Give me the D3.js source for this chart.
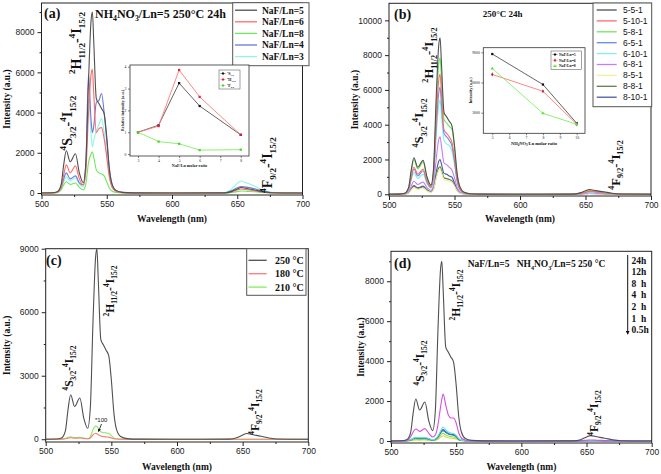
<!DOCTYPE html>
<html><head><meta charset="utf-8">
<script src="https://cdn.jsdelivr.net/npm/d3@7"></script>
<style>body{margin:0;background:#fff}svg{display:block}</style>
</head><body>
<svg id="c" width="661" height="474"></svg>
<script>
// ---------------- DATA ----------------
const wavelengths = [500,508,512,515,517,519,522,526,529,532,534,536,538,539,540,542,544,546,548,550,552,554,557,562,570,600,640,646,650,653,658,664,670,676,700];
const xTicks = [500,550,600,650,700];
const xMinorTicks = [525,575,625,675];

// panel (a): NaF/Ln series
const aLabels = ["NaF/Ln=5","NaF/Ln=6","NaF/Ln=8","NaF/Ln=4","NaF/Ln=3"];
const aNaF5 = [0,10,60,400,1400,2100,1550,1950,1000,520,1500,5500,8600,9000,7600,4700,4450,4200,3950,2800,1200,450,130,30,5,0,5,80,200,270,210,140,60,15,0];
const aNaF6 = [0,5,40,270,900,1400,1000,1350,700,400,1100,3900,5900,6150,5000,3000,3200,3250,2700,1800,800,300,90,20,0,0,3,60,150,200,160,100,40,10,0];
const aNaF8 = [0,5,20,150,400,560,430,500,280,150,450,1500,1950,2050,1800,1150,1000,950,850,550,250,100,30,5,0,0,2,30,70,100,80,60,25,5,0];
const aNaF4 = [0,5,40,250,700,1000,700,850,500,400,1500,5900,3600,3000,3300,4500,4600,4950,4000,2600,1200,450,130,30,0,0,5,120,260,320,280,200,80,20,0];
const aNaF3 = [0,5,30,200,550,800,600,750,450,300,1300,4700,2900,2300,2600,3100,3400,3700,3000,1800,800,300,90,20,0,0,10,220,480,600,480,320,130,30,0];
const aYTicks = [0,2000,4000,6000,8000];
// inset (a)
const insetARatio = [3,4,5,6,8];
const insetAS = [1.0,1.32,3.25,2.2,0.88];
const insetAH = [1.0,1.28,3.85,2.62,0.88];
const insetAF = [1.0,0.57,0.47,0.18,0.2];
const insetAXTicks = [3,4,5,6,7,8];
const insetAYTicks = [0,1,2,3,4];

// panel (b)
const bLabels = ["5-5-1","5-10-1","5-8-1","6-5-1","6-10-1","6-8-1","8-5-1","8-8-1","8-10-1"];
const b551  = [0,10,60,400,1400,2100,1550,1950,1000,520,1500,5500,8600,9000,7600,4700,4450,4200,3950,2800,1200,450,130,30,5,0,5,80,200,270,210,140,60,15,0];
const b5101 = [0,8,45,300,1000,1550,1150,1450,750,420,1150,4200,6600,6900,5800,3700,3500,3300,3000,2100,900,330,100,20,0,0,3,50,130,180,140,90,40,10,0];
const b581  = [0,10,55,380,1300,2000,1450,1850,950,500,1350,4900,7500,7850,6700,4300,4100,3900,3750,2600,1100,420,120,25,0,0,4,70,170,220,170,110,50,12,0];
const b651  = [0,8,40,280,950,1450,1050,1350,700,400,1050,3800,5850,6150,5200,3500,3300,3100,2800,1900,800,300,90,20,0,0,3,50,120,160,130,80,35,8,0];
const b6101 = [0,7,35,240,820,1250,900,1150,620,350,900,3300,5150,5400,4600,3100,2900,2800,2500,1700,720,270,80,15,0,0,3,40,100,140,110,70,30,8,0];
const b681  = [0,4,20,140,480,750,560,700,380,220,550,2000,3150,3300,2800,1800,1700,1550,1400,950,400,150,45,10,0,0,2,25,60,80,65,40,18,4,0];
const b851  = [0,2,10,70,240,380,280,350,190,110,260,900,1380,1450,1250,850,800,750,680,460,200,75,22,5,0,0,1,12,30,40,32,20,9,2,0];
const b881  = [0,2,12,85,290,450,330,420,230,130,300,1000,1520,1600,1400,950,900,850,780,520,220,85,25,5,0,0,1,14,35,45,36,22,10,2,0];
const b8101 = [0,3,14,95,320,500,370,470,260,150,360,1250,1900,2000,1750,1200,1150,1050,980,650,280,105,30,6,0,0,1,17,42,55,44,27,12,3,0];
const bYTicks = [0,2000,4000,6000,8000,10000];
// inset (b)
const insetBRatio = [5,8,10];
const insetBNaF5 = [8830,5800,1950];
const insetBNaF6 = [6800,5130,1850];
const insetBNaF8 = [7400,2940,1850];
const insetBLabels = ["NaF/Ln=5","NaF/Ln=6","NaF/Ln=8"];
const insetBXTicks = [5,6,7,8,9,10];
const insetBYTicks = [3000,6000,9000];

// panel (c)
const cLabels = ["250 °C","180 °C","210 °C"];
const c250 = [0,10,60,400,1400,2100,1550,1950,1000,520,1500,5500,8600,9000,7600,4700,4450,4200,3950,2800,1200,450,130,30,5,0,5,80,200,270,210,140,60,15,0];
const c180 = [0,0,5,20,50,70,50,60,35,20,60,200,280,260,220,150,130,110,100,60,25,10,2,0,0,0,0,0,0,0,0,0,0,0,0];
const c210 = [0,0,10,40,90,110,80,90,55,30,120,450,620,600,520,350,310,300,280,170,60,20,5,0,0,0,0,0,0,0,0,0,0,0,0];
const cYTicks = [0,3000,6000,9000];

// panel (d)
const dLabels = ["24h","12h","8  h","4  h","2  h","1  h","0.5h"];
const d24 = [0,10,60,400,1400,2100,1550,1950,1000,520,1500,5500,8600,9000,7600,4700,4450,4200,3950,2800,1200,450,130,30,5,0,5,80,200,270,210,140,60,15,0];
const d12 = [0,5,30,200,450,600,480,620,380,200,300,800,1700,2100,2350,1800,1300,1150,1150,900,400,150,50,10,0,0,2,20,40,50,40,25,10,2,0];
const d8  = [0,2,15,60,140,190,160,180,120,70,100,250,500,620,700,560,450,400,380,280,120,45,15,3,0,0,1,8,15,20,15,10,4,1,0];
const d4  = [0,2,12,50,120,160,135,155,100,60,85,210,430,530,570,460,380,340,320,240,100,38,12,2,0,0,1,6,12,16,12,8,3,1,0];
const d2  = [0,2,12,50,120,150,130,150,95,55,80,200,400,480,520,420,350,310,290,220,90,35,11,2,0,0,1,6,12,15,12,8,3,1,0];
const d1  = [0,1,8,30,70,90,75,85,55,35,50,140,300,360,380,300,250,220,200,150,60,22,7,1,0,0,1,4,8,10,8,5,2,1,0];
const d05 = [0,1,5,20,45,55,45,55,35,22,35,90,200,240,260,200,160,140,130,100,40,15,5,1,0,0,0,3,5,7,5,3,1,0,0];
const dYTicks = [0,2000,4000,6000,8000];

// ---------------- DRAWING ----------------
const SERIF = "'Liberation Serif','Times New Roman',serif";
const SANS = "'Liberation Sans',Arial,sans-serif";
const svg = d3.select("#c");

const LBL_S = [["4","sup"],["S","n"],["3/2","sub"],["-","n"],["4","sup"],["I","n"],["15/2","sub"]];
const LBL_H = [["2","sup"],["H","n"],["11/2","sub"],["-","n"],["4","sup"],["I","n"],["15/2","sub"]];
const LBL_F = [["4","sup"],["F","n"],["9/2","sub"],["-","n"],["4","sup"],["I","n"],["15/2","sub"]];

function rich(g, x, y, parts, size, opt) {
  opt = opt || {};
  const t = g.append("text")
    .attr("font-family", opt.family || SERIF)
    .attr("font-weight", opt.weight || "bold")
    .attr("font-size", size)
    .attr("fill", opt.fill || "#111")
    .attr("text-anchor", opt.anchor || "start")
    .style("white-space", "pre")
    .attr("transform", `translate(${x},${y})` + (opt.rotate ? " rotate(-90)" : ""));
  let cur = 0;
  parts.forEach(([s, k]) => {
    const off = k === "sup" ? -0.42 * size : k === "sub" ? 0.28 * size : 0;
    t.append("tspan").attr("dy", off - cur).attr("font-size", k === "n" ? size : size * 0.65).text(s);
    cur = off;
  });
  return t;
}
// rotated label, centred visually at (cx, cy)
function rlabel(g, cx, cy, parts, size) {
  rich(g, cx + 0.36 * size, cy, parts, size, {rotate: true, anchor: "middle"});
}

function panel(cfg) {
  const g = svg.append("g");
  const x = d3.scaleLinear().domain([500, 700]).range(cfg.xr);
  const y = d3.scaleLinear().domain(cfg.yd).range(cfg.yr);
  const line = d3.line().x((d, i) => x(wavelengths[i])).y(d => y(d)).curve(d3.curveMonotoneX);
  const clipId = "clip" + cfg.id;
  svg.append("clipPath").attr("id", clipId).append("rect")
    .attr("x", cfg.xr[0]).attr("y", cfg.yr[1]).attr("width", cfg.xr[1] - cfg.xr[0]).attr("height", cfg.yr[0] - cfg.yr[1]);
  const cg = g.append("g").attr("clip-path", `url(#${clipId})`);
  cfg.series.slice().reverse().forEach(s => {
    cg.append("path").attr("d", line(s.values)).attr("fill", "none")
      .attr("stroke", s.color).attr("stroke-width", 1.1);
  });
  // axes
  const xa = g.append("g").attr("transform", `translate(0,${cfg.yr[0]})`)
    .call(d3.axisBottom(x).tickValues(xTicks).tickSize(4).tickPadding(2).tickFormat(d3.format("d")));
  const xm = g.append("g").attr("transform", `translate(0,${cfg.yr[0]})`)
    .call(d3.axisBottom(x).tickValues(xMinorTicks).tickSize(2).tickFormat(""));
  const ya = g.append("g").attr("transform", `translate(${cfg.xr[0]},0)`)
    .call(d3.axisLeft(y).tickValues(cfg.yTicks).tickSize(4).tickPadding(3).tickFormat(d3.format("d")));
  const step = cfg.yTicks[1] - cfg.yTicks[0];
  const minor = cfg.yTicks.map(v => v + step / 2).filter(v => v < cfg.yd[1]);
  const ym = g.append("g").attr("transform", `translate(${cfg.xr[0]},0)`)
    .call(d3.axisLeft(y).tickValues(minor).tickSize(2).tickFormat(""));
  [xa, xm, ya, ym].forEach(a => {
    a.select(".domain").remove();
    a.selectAll("line").attr("stroke", "#222");
    a.selectAll("text").attr("font-family", SANS).attr("font-size", 8.5).attr("fill", "#222");
  });
  g.append("rect").attr("x", cfg.xr[0]).attr("y", cfg.yr[1])
    .attr("width", cfg.xr[1] - cfg.xr[0]).attr("height", cfg.yr[0] - cfg.yr[1])
    .attr("fill", "none").attr("stroke", "#222").attr("stroke-width", 1);
  // axis titles
  g.append("text").attr("x", (cfg.xr[0] + cfg.xr[1]) / 2).attr("y", cfg.xTitleY)
    .attr("text-anchor", "middle").attr("font-family", SERIF).attr("font-weight", "bold")
    .attr("font-size", 9.5).attr("fill", "#111").text("Wavelength (nm)");
  g.append("text").attr("transform", `translate(${cfg.yTitleX},${(cfg.yr[0] + cfg.yr[1]) / 2}) rotate(-90)`)
    .attr("text-anchor", "middle").attr("font-family", SERIF).attr("font-weight", "bold")
    .attr("font-size", 9.5).attr("fill", "#111").text("Intensity (a.u.)");
  // panel letter
  g.append("text").attr("x", cfg.letter[0]).attr("y", cfg.letter[1])
    .attr("font-family", SERIF).attr("font-weight", "bold").attr("font-size", 14)
    .attr("fill", "#111").text(cfg.letter[2]);
  // transition labels
  rlabel(g, cfg.sLab[0], cfg.sLab[1], LBL_S, cfg.labSize);
  rlabel(g, cfg.hLab[0], cfg.hLab[1], LBL_H, cfg.labSize);
  rlabel(g, cfg.fLab[0], cfg.fLab[1], LBL_F, cfg.labSize);
  return {g, x, y};
}

function legendBox(g, box, items, opt) {
  g.append("rect").attr("x", box[0]).attr("y", box[1]).attr("width", box[2] - box[0]).attr("height", box[3] - box[1])
    .attr("fill", "#fff").attr("stroke", "#555").attr("stroke-width", 1);
  items.forEach((it, i) => {
    const yy = opt.y0 + i * opt.dy;
    g.append("line").attr("x1", opt.lx[0]).attr("x2", opt.lx[1]).attr("y1", yy).attr("y2", yy)
      .attr("stroke", it.color).attr("stroke-width", 1.3);
    g.append("text").attr("x", opt.tx).attr("y", yy + opt.size * 0.35)
      .attr("font-family", opt.family).attr("font-weight", opt.weight).attr("font-size", opt.size)
      .attr("fill", "#111").style("white-space", "pre").text(it.label);
  });
}

function inset(cfg) {
  const g = svg.append("g");
  const x = d3.scaleLinear().domain(cfg.xd).range([cfg.box[0], cfg.box[2]]);
  const y = d3.scaleLinear().domain(cfg.yd).range([cfg.box[3], cfg.box[1]]);
  g.append("rect").attr("x", cfg.box[0]).attr("y", cfg.box[1])
    .attr("width", cfg.box[2] - cfg.box[0]).attr("height", cfg.box[3] - cfg.box[1])
    .attr("fill", "#fff").attr("stroke", "#333").attr("stroke-width", 0.8);
  const xa = g.append("g").attr("transform", `translate(0,${cfg.box[3]})`)
    .call(d3.axisBottom(x).tickValues(cfg.xTicks).tickSize(2).tickPadding(1).tickFormat(d3.format("d")));
  const ya = g.append("g").attr("transform", `translate(${cfg.box[0]},0)`)
    .call(d3.axisLeft(y).tickValues(cfg.yTicks).tickSize(2).tickPadding(1.5).tickFormat(d3.format("d")));
  [xa, ya].forEach(a => {
    a.select(".domain").remove();
    a.selectAll("line").attr("stroke", "#333").attr("stroke-width", 0.6);
    a.selectAll("text").attr("font-family", SERIF).attr("font-size", 3.8).attr("fill", "#222");
  });
  const line = d3.line().x(d => x(d[0])).y(d => y(d[1]));
  cfg.series.forEach(s => {
    const pts = cfg.xs.map((v, i) => [v, s.values[i]]);
    g.append("path").attr("d", line(pts)).attr("fill", "none").attr("stroke", s.color).attr("stroke-width", 0.9);
    g.selectAll(null).data(pts).join("path")
      .attr("transform", d => `translate(${x(d[0])},${y(d[1])})`)
      .attr("d", d3.symbol().type(s.symbol).size(5))
      .attr("fill", s.mark);
  });
  if (cfg.xTitle) g.append("text").attr("x", (cfg.box[0] + cfg.box[2]) / 2).attr("y", cfg.xTitleY)
    .attr("text-anchor", "middle").attr("font-family", SERIF).attr("font-weight", "bold")
    .attr("font-size", 4.2).attr("fill", "#222").text(cfg.xTitle);
  g.append("text").attr("transform", `translate(${cfg.yTitleX},${(cfg.box[1] + cfg.box[3]) / 2}) rotate(-90)`)
    .attr("text-anchor", "middle").attr("font-family", SERIF).attr("font-weight", "bold")
    .attr("font-size", 4.2).attr("fill", "#222").text(cfg.yTitle);
  // legend
  const L = cfg.legend;
  g.append("rect").attr("x", L.box[0]).attr("y", L.box[1]).attr("width", L.box[2] - L.box[0]).attr("height", L.box[3] - L.box[1])
    .attr("fill", "#fff").attr("stroke", "#444").attr("stroke-width", 0.5);
  cfg.series.forEach((s, i) => {
    const yy = L.y0 + i * L.dy;
    g.append("line").attr("x1", L.box[0] + 1.5).attr("x2", L.box[0] + 6.5).attr("y1", yy).attr("y2", yy)
      .attr("stroke", s.color).attr("stroke-width", 0.7);
    g.append("path").attr("transform", `translate(${L.box[0] + 4},${yy})`)
      .attr("d", d3.symbol().type(s.symbol).size(4)).attr("fill", s.mark);
    if (s.rich) rich(g, L.box[0] + 8, yy + 1.3, s.rich, 4, {weight: "bold"});
    else g.append("text").attr("x", L.box[0] + 8).attr("y", yy + 1.3).attr("font-family", SERIF)
      .attr("font-weight", "bold").attr("font-size", 3.8).attr("fill", "#111").text(s.label);
  });
}

// ---------- panel (a)
const colA = ["#505050", "#ff6b6b", "#6fe85a", "#6a78d8", "#8ff5e6"];
const pa = panel({
  id: "a", xr: [41.5, 302.5], yd: [-100, 9450], yr: [195, 3], yTicks: aYTicks,
  series: [aNaF5, aNaF6, aNaF8, aNaF4, aNaF3].map((v, i) => ({values: v, color: colA[i]})),
  xTitleY: 222, yTitleX: 9.8, letter: [44, 18, "(a)"],
  sLab: [67, 123], hLab: [76, 43], fLab: [267, 165], labSize: 14
});
rich(pa.g, 95, 18, [["NH","n"],["4","sub"],["NO","n"],["3","sub"],["/Ln=5 250°C 24h","n"]], 12);
legendBox(pa.g, [232.7, 2.7, 309, 65.7], aLabels.map((l, i) => ({label: l, color: colA[i]})),
  {y0: 10.2, dy: 11.6, lx: [235, 257], tx: 262, size: 9.5, family: SERIF, weight: "bold"});
inset({
  box: [130, 65, 249, 156], xd: [2.61, 8.4], yd: [-0.09, 4.08],
  xTicks: insetAXTicks, yTicks: insetAYTicks, xs: insetARatio,
  series: [
    {values: insetAS, color: "#555", mark: "#111", symbol: d3.symbolSquare, rich: [["4","sup"],["S","n"],["3/2","sub"]]},
    {values: insetAH, color: "#ff7a7a", mark: "#e02040", symbol: d3.symbolSquare, rich: [["2","sup"],["H","n"],["11/2","sub"]]},
    {values: insetAF, color: "#7ef060", mark: "#4ed030", symbol: d3.symbolSquare, rich: [["4","sup"],["F","n"],["9/2","sub"]]}
  ],
  xTitle: "NaF/Ln molar ratio", xTitleY: 167, yTitle: "Relative intensity (a.u.)", yTitleX: 124,
  legend: {box: [219, 70, 240, 89], y0: 73.5, dy: 6}
});

// ---------- panel (b)
const colB = ["#505050", "#ff6b6b", "#6fe85a", "#6a8ae8", "#7ff0f0", "#c77ef0", "#eef0a0", "#5f7f45", "#4a5aa8"];
const pb = panel({
  id: "b", xr: [389, 651], yd: [-100, 10980], yr: [196, 3.3], yTicks: bYTicks,
  series: [b551, b5101, b581, b651, b6101, b681, b851, b881, b8101].map((v, i) => ({values: v, color: colB[i]})),
  xTitleY: 222, yTitleX: 357.5, letter: [394, 19, "(b)"],
  sLab: [418.5, 123], hLab: [428.5, 55], fLab: [615, 165], labSize: 12.5
});
rich(pb.g, 482.7, 17, [["250°C 24h","n"]], 9);
legendBox(pb.g, [593, 3, 651.7, 106.7], bLabels.map((l, i) => ({label: l, color: colB[i]})),
  {y0: 10, dy: 10.9, lx: [596.7, 616.7], tx: 623, size: 8.5, family: SANS, weight: "normal"});
inset({
  box: [483.3, 47.7, 585, 133.3], xd: [4.47, 10.49], yd: [954, 9457],
  xTicks: insetBXTicks, yTicks: insetBYTicks, xs: insetBRatio,
  series: [
    {values: insetBNaF5, color: "#555", mark: "#111", symbol: d3.symbolSquare, label: insetBLabels[0]},
    {values: insetBNaF6, color: "#ff7a7a", mark: "#c02040", symbol: d3.symbolDiamond, label: insetBLabels[1]},
    {values: insetBNaF8, color: "#7ef060", mark: "#5ee040", symbol: d3.symbolTriangle, label: insetBLabels[2]}
  ],
  xTitle: "", xTitleY: 152.3, yTitle: "Intensity (a.u.)", yTitleX: 472,
  legend: {box: [551, 51, 581.7, 69.3], y0: 54.5, dy: 5.8}
});
rich(pb.g, 534, 145, [["NH","n"],["4","sub"],["NO","n"],["3","sub"],["/Ln molar ratio","n"]], 4.5, {anchor: "middle"});

// ---------- panel (c)
const colC = ["#505050", "#ff7a7a", "#7ef060"];
const pc = panel({
  id: "c", xr: [45.7, 308.3], yd: [-130, 9000], yr: [442, 248.7], yTicks: cYTicks,
  series: [c250, c180, c210].map((v, i) => ({values: v, color: colC[i]})),
  xTitleY: 470, yTitleX: 9.8, letter: [46, 265, "(c)"],
  sLab: [69, 368], hLab: [110, 291], fLab: [255, 412], labSize: 11.5
});
legendBox(pc.g, [246.7, 248.7, 306, 295.3], cLabels.map((l, i) => ({label: l, color: colC[i]})),
  {y0: 260.3, dy: 13.4, lx: [248.5, 266.7], tx: 275, size: 10, family: SERIF, weight: "bold"});
pc.g.append("text").attr("x", 95).attr("y", 421.5).attr("font-family", SANS).attr("font-size", 6)
  .attr("fill", "#111").text("*100");
const defs = svg.append("defs");
defs.append("marker").attr("id", "ah").attr("viewBox", "0 0 6 6").attr("refX", 5).attr("refY", 3)
  .attr("markerWidth", 4).attr("markerHeight", 4).attr("orient", "auto")
  .append("path").attr("d", "M0,0L6,3L0,6Z").attr("fill", "#111");
pc.g.append("line").attr("x1", 101.5).attr("y1", 424).attr("x2", 98.5).attr("y2", 431.5)
  .attr("stroke", "#111").attr("stroke-width", 0.8).attr("marker-end", "url(#ah)");

// ---------- panel (d)
const colD = ["#505050", "#d84fe0", "#6fe0e0", "#3f66c8", "#2a8a8a", "#7ee84a", "#d8d84a"];
const pd = panel({
  id: "d", xr: [391, 651.7], yd: [-100, 9500], yr: [443, 251.3], yTicks: dYTicks,
  series: [d24, d12, d8, d4, d2, d1, d05].map((v, i) => ({values: v, color: colD[i]})),
  xTitleY: 470, yTitleX: 363.5, letter: [394, 268, "(d)"],
  sLab: [420, 363], hLab: [455.5, 295], fLab: [593.5, 413], labSize: 11.5
});
rich(pd.g, 467.7, 267, [["NaF/Ln=5   NH","n"],["4","sub"],["NO","n"],["3","sub"],["/Ln=5 250 °C","n"]], 9.5);
pd.g.append("line").attr("x1", 627.7).attr("y1", 255).attr("x2", 627.7).attr("y2", 334)
  .attr("stroke", "#111").attr("stroke-width", 1).attr("marker-end", "url(#ah)");
dLabels.forEach((l, i) => {
  pd.g.append("text").attr("x", 631.5).attr("y", 263.6 + i * 11.6)
    .attr("font-family", SERIF).attr("font-weight", "bold").attr("font-size", 9.5)
    .attr("fill", "#111").style("white-space", "pre").text(l);
});
</script>
</body></html>
